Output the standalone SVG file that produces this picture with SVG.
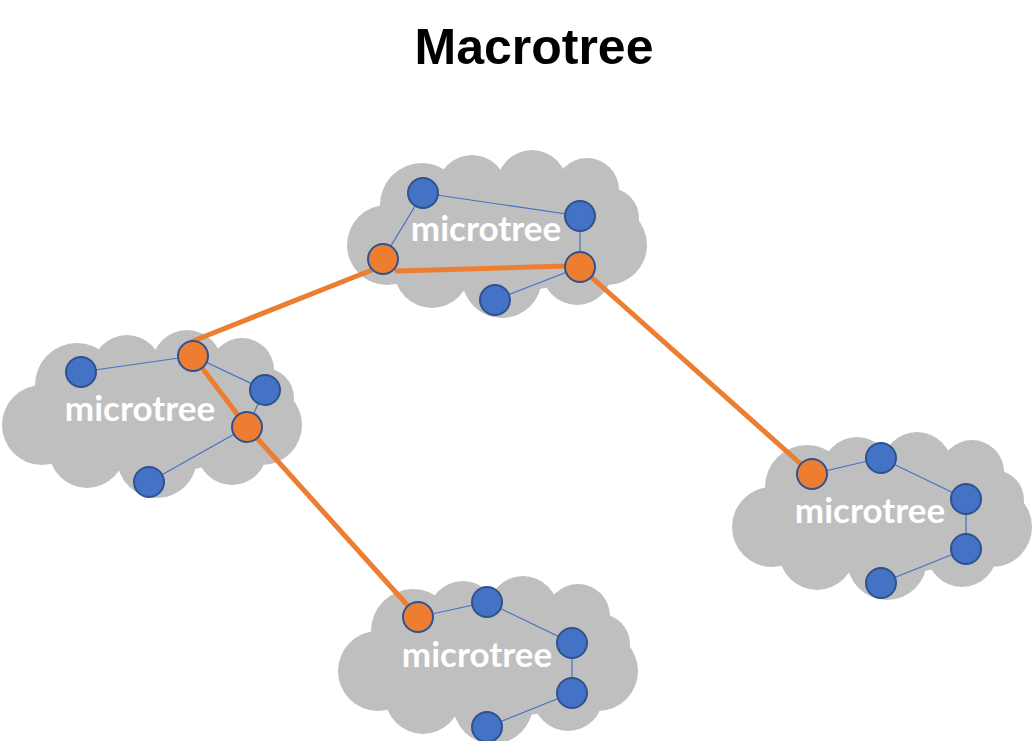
<svg xmlns="http://www.w3.org/2000/svg" xmlns:xlink="http://www.w3.org/1999/xlink" width="1033" height="741" viewBox="0 0 1033 741">
<style>
.cloud{fill:#BFBFBF}
.thin{stroke:#4472C4;stroke-width:1.2;fill:none}
.thick{stroke:#ED7D31;stroke-width:5;fill:none;stroke-linecap:round}
.blue{fill:#4472C4;stroke:#2F528F;stroke-width:2}
.orange{fill:#ED7D31;stroke:#2F528F;stroke-width:2}
.lbl{font-family:Lato,"Open Sans",sans-serif;font-weight:bold;font-size:35px;fill:#FFFFFF;text-anchor:middle}
.title{font-family:"Liberation Sans",Arial,sans-serif;font-weight:bold;font-size:50px;fill:#000000;text-anchor:middle}
</style>
<defs>
<g id="cloudShape" class="cloud">
<circle cx="40" cy="95" r="40"/>
<circle cx="75" cy="55" r="42"/>
<circle cx="125" cy="40" r="35"/>
<circle cx="185" cy="35" r="35"/>
<circle cx="240" cy="40" r="32"/>
<circle cx="262" cy="68" r="30"/>
<circle cx="260" cy="95" r="40"/>
<circle cx="230" cy="120" r="35"/>
<circle cx="155" cy="128" r="40"/>
<circle cx="85" cy="120" r="38"/>
<ellipse cx="150" cy="88" rx="115" ry="55"/>
</g>
</defs>
<rect width="1033" height="741" fill="#FFFFFF"/>
<text class="title" x="534" y="64">Macrotree</text>

<g id="cloud-top"><use xlink:href="#cloudShape" x="347" y="150"/></g>
<g id="cloud-left"><use xlink:href="#cloudShape" x="2" y="330"/></g>
<g id="cloud-right"><use xlink:href="#cloudShape" x="732" y="432"/></g>
<g id="cloud-bottom"><use xlink:href="#cloudShape" x="338" y="576"/></g>

<g id="connectors">
<line class="thin" x1="423" y1="193" x2="580" y2="216"/>
<line class="thin" x1="423" y1="193" x2="383" y2="259"/>
<line class="thin" x1="580" y1="216" x2="580" y2="267"/>
<line class="thin" x1="580" y1="267" x2="495" y2="300"/>
<line class="thin" x1="81" y1="372" x2="193" y2="356"/>
<line class="thin" x1="193" y1="356" x2="265" y2="390"/>
<line class="thin" x1="265" y1="390" x2="247" y2="427"/>
<line class="thin" x1="247" y1="427" x2="149" y2="482"/>
<line class="thin" x1="812" y1="474" x2="881" y2="458"/>
<line class="thin" x1="881" y1="458" x2="966" y2="499"/>
<line class="thin" x1="966" y1="499" x2="966" y2="549"/>
<line class="thin" x1="966" y1="549" x2="881" y2="583"/>
<line class="thin" x1="418" y1="617" x2="487" y2="602"/>
<line class="thin" x1="487" y1="602" x2="572" y2="643"/>
<line class="thin" x1="572" y1="643" x2="572" y2="693"/>
<line class="thin" x1="572" y1="693" x2="487" y2="727"/>
<line class="thick" x1="397" y1="271" x2="566" y2="266"/>
<line class="thick" x1="193" y1="341" x2="372" y2="270"/>
<line class="thick" x1="193" y1="356" x2="247" y2="427"/>
<line class="thick" x1="580" y1="267" x2="812" y2="474"/>
<line class="thick" x1="247" y1="427" x2="418" y2="617"/>
</g>

<g id="node-t1"><circle class="blue" cx="423" cy="193" r="15"/></g>
<g id="node-t2"><circle class="blue" cx="580" cy="216" r="15"/></g>
<g id="node-t3"><circle class="orange" cx="383" cy="259" r="15"/></g>
<g id="node-t4"><circle class="orange" cx="580" cy="267" r="15"/></g>
<g id="node-t5"><circle class="blue" cx="495" cy="300" r="15"/></g>

<g id="node-l1"><circle class="blue" cx="81" cy="372" r="15"/></g>
<g id="node-l2"><circle class="orange" cx="193" cy="356" r="15"/></g>
<g id="node-l3"><circle class="blue" cx="265" cy="390" r="15"/></g>
<g id="node-l4"><circle class="orange" cx="247" cy="427" r="15"/></g>
<g id="node-l5"><circle class="blue" cx="149" cy="482" r="15"/></g>

<g id="node-r1"><circle class="orange" cx="812" cy="474" r="15"/></g>
<g id="node-r2"><circle class="blue" cx="881" cy="458" r="15"/></g>
<g id="node-r3"><circle class="blue" cx="966" cy="499" r="15"/></g>
<g id="node-r4"><circle class="blue" cx="966" cy="549" r="15"/></g>
<g id="node-r5"><circle class="blue" cx="881" cy="583" r="15"/></g>

<g id="node-b1"><circle class="orange" cx="418" cy="617" r="15"/></g>
<g id="node-b2"><circle class="blue" cx="487" cy="602" r="15"/></g>
<g id="node-b3"><circle class="blue" cx="572" cy="643" r="15"/></g>
<g id="node-b4"><circle class="blue" cx="572" cy="693" r="15"/></g>
<g id="node-b5"><circle class="blue" cx="487" cy="727" r="15"/></g>

<g id="labels">
<text class="lbl" x="486" y="241">microtree</text>
<text class="lbl" x="140" y="421">microtree</text>
<text class="lbl" x="870" y="523">microtree</text>
<text class="lbl" x="477" y="667">microtree</text>
</g>
</svg>
